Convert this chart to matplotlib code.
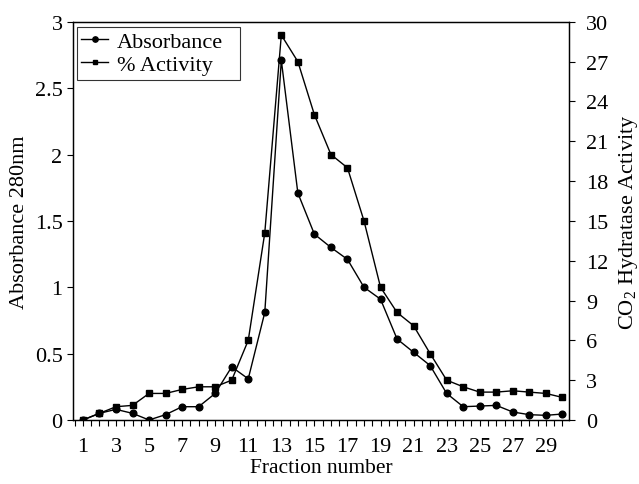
import matplotlib
matplotlib.use("Agg")
import matplotlib.pyplot as plt

plt.rcParams['font.family'] = ['Liberation Serif', 'DejaVu Serif']
plt.rcParams['mathtext.fontset'] = 'custom'
plt.rcParams['mathtext.rm'] = 'Liberation Serif'

fractions = list(range(1, 31))
absorbance = [0.0, 0.05, 0.08, 0.05, 0.0, 0.04, 0.10, 0.10, 0.20, 0.40,
              0.31, 0.81, 2.71, 1.71, 1.40, 1.30, 1.21, 1.00, 0.91, 0.61,
              0.51, 0.41, 0.20, 0.10, 0.105, 0.11, 0.06, 0.04, 0.035, 0.045]
activity = [0.0, 0.5, 1.0, 1.1, 2.0, 2.0, 2.3, 2.5, 2.5, 3.0,
            6.0, 14.1, 29.0, 27.0, 23.0, 20.0, 19.0, 15.0, 10.0, 8.1,
            7.1, 5.0, 3.0, 2.5, 2.1, 2.1, 2.2, 2.1, 2.0, 1.7]
x_tick_labels = [1, 3, 5, 7, 9, 11, 13, 15, 17, 19, 21, 23, 25, 27, 29]
left_ticks = [0, 0.5, 1, 1.5, 2, 2.5, 3]
left_labels = ['0', '0.5', '1', '1.5', '2', '2.5', '3']
right_ticks = list(range(0, 31, 3))

fig = plt.figure(figsize=(6.39, 4.85), dpi=100)
ax = fig.add_axes([0.1142, 0.132, 0.7763, 0.821])
ax2 = ax.twinx()

l1, = ax.plot(fractions, absorbance, '-o', color='black', lw=1.0, ms=4.8,
              label='Absorbance')
l2, = ax2.plot(fractions, activity, '-s', color='black', lw=1.0, ms=4.3,
               label='% Activity')

ax.set_xlim(0.4, 30.4)
ax.set_ylim(0, 3)
ax2.set_ylim(0, 30)

ax.set_xticks(x_tick_labels)
ax.set_xticklabels([str(f) for f in x_tick_labels])
ax.set_xticks([f / 2 for f in range(1, 61)], minor=True)
ax.set_yticks(left_ticks)
ax.set_yticklabels(left_labels)
ax2.set_yticks(right_ticks)

for a in (ax, ax2):
    a.tick_params(which='both', direction='out', length=4.5, width=0.8,
                  labelsize=16, color='black')
    for s in a.spines.values():
        s.set_linewidth(0.9)
ax.tick_params(axis='x', which='both', pad=8)
ax.tick_params(axis='y', pad=3)
ax2.tick_params(axis='y', pad=8)

ax.set_xlabel('Fraction number', fontsize=15.5, labelpad=1)
ax.set_ylabel('Absorbance 280nm', fontsize=16, labelpad=4)
ax2.set_ylabel('CO$_2$ Hydratase Activity', fontsize=16, labelpad=6)

leg = ax.legend(handles=[l1, l2], loc='upper left', fontsize=16,
                bbox_to_anchor=(0.008, 0.5, 0.329, 0.487), mode='expand',
                frameon=True, fancybox=False, edgecolor='black',
                borderpad=0.2, labelspacing=0.12, handlelength=1.2,
                handletextpad=0.4, borderaxespad=0.0, markerscale=0.8)
leg.get_frame().set_linewidth(0.8)

fig.savefig('out.png', dpi=100)
